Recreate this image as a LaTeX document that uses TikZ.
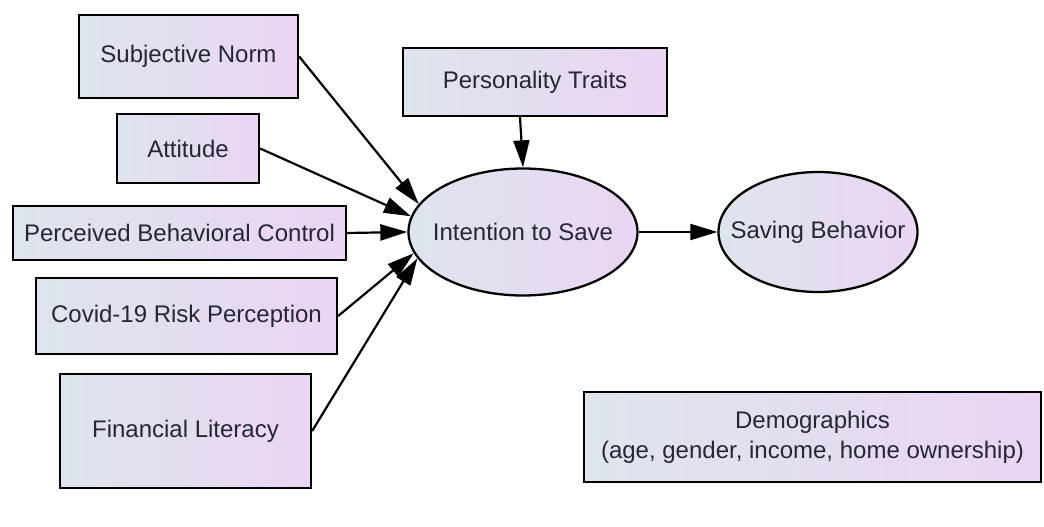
\documentclass[tikz,border=0pt]{standalone}
\usepackage{fontspec}
\setmainfont{Liberation Sans}
\usepackage{xcolor}
\usepackage{tikz}
\usetikzlibrary{shapes.geometric, arrows.meta}

\definecolor{fillleft}{RGB}{222,229,236}
\definecolor{fillright}{RGB}{234,213,243}
\definecolor{labelc}{RGB}{38,38,52}

\begin{document}
\begin{tikzpicture}[x=1pt, y=-1pt,
    var/.style={draw=black, line width=2.3pt, left color=fillleft, right color=fillright,
        text=labelc, inner sep=0pt, font=\fontsize{24}{30}\selectfont, align=center},
    latent/.style={var, ellipse},
    arr/.style={line width=2.2pt, -{Triangle[length=27pt, width=16pt]}}]
    \useasboundingbox (0,0) rectangle (1044,527);
    \node[var, minimum width=219pt, minimum height=83pt] (subj) at (188.5,56.5) {Subjective Norm};
    \node[var, minimum width=142pt, minimum height=69pt] (att) at (188,148.5) {Attitude};
    \node[var, minimum width=333pt, minimum height=54pt] (pbc) at (179.5,233) {Perceived Behavioral Control};
    \node[var, minimum width=301pt, minimum height=76pt] (covid) at (186.5,316) {Covid-19 Risk Perception};
    \node[var, minimum width=251pt, minimum height=114pt] (finlit) at (185.5,431) {Financial Literacy};
    \node[var, minimum width=264pt, minimum height=68pt] (pers) at (535,82) {Personality Traits};
    \node[latent, minimum width=229pt, minimum height=127pt] (intent) at (523,232) {\makebox[0pt]{Intention to Save}};
    \node[latent, minimum width=199pt, minimum height=120pt] (saving) at (818,232) {\makebox[0pt]{Saving Behavior}};
    \node[var, minimum width=457pt, minimum height=90pt] (demo) at (812.5,437) {Demographics\\(age, gender, income, home ownership)};
    \draw[arr] (subj.east) -- (intent.165);
    \draw[arr] (att.east) -- (intent.172);
    \draw[arr] (pbc.east) -- (intent.west);
    \draw[arr] (covid.east) -- (intent.191);
    \draw[arr] (finlit.east) -- (intent.194);
    \draw[arr] ([xshift=-15pt]pers.south) -- (intent.north);
    \draw[arr] (intent.east) -- (saving.west);
\end{tikzpicture}
\end{document}
